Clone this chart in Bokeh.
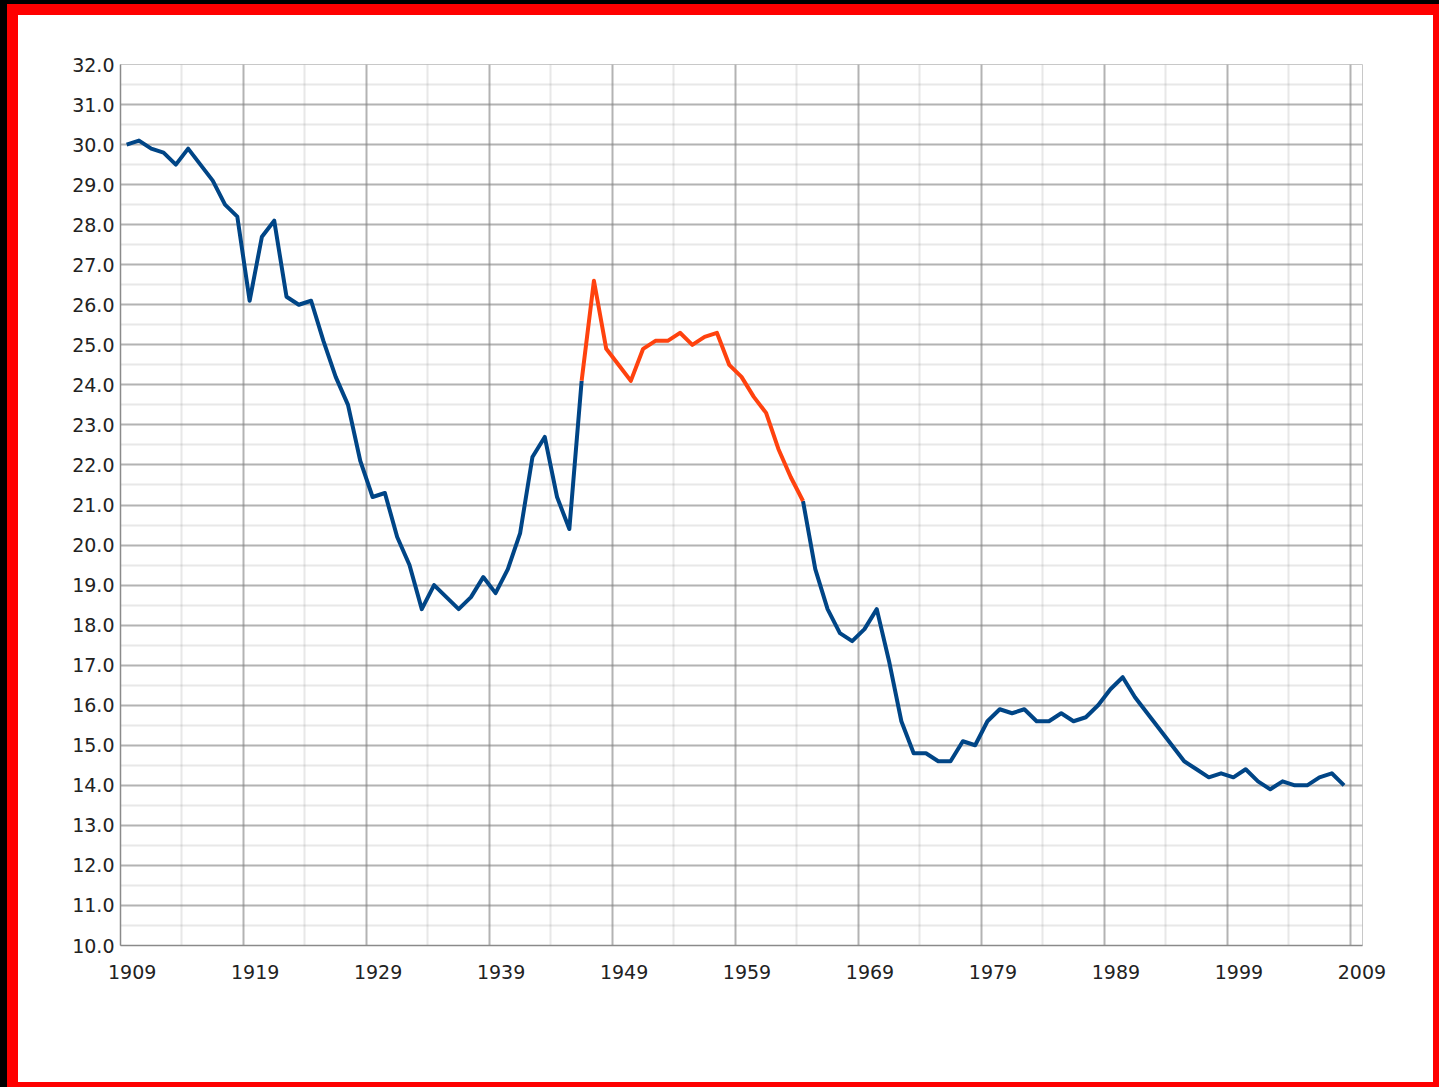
import math
from bokeh.plotting import figure
from bokeh.models import Range1d, FixedTicker, Grid, NumeralTickFormatter, CustomJSTickFormatter
from bokeh.embed import file_html
from bokeh.resources import INLINE

# ---- data ----
years = list(range(1909, 2009))
rate = [
    30.0, 30.1, 29.9, 29.8, 29.5, 29.9, 29.5, 29.1, 28.5, 28.2,   # 1909-1918
    26.1, 27.7, 28.1, 26.2, 26.0, 26.1, 25.1, 24.2, 23.5, 22.1,   # 1919-1928
    21.2, 21.3, 20.2, 19.5, 18.4, 19.0, 18.7, 18.4, 18.7, 19.2,   # 1929-1938
    18.8, 19.4, 20.3, 22.2, 22.7, 21.2, 20.4, 24.1, 26.6, 24.9,   # 1939-1948
    24.5, 24.1, 24.9, 25.1, 25.1, 25.3, 25.0, 25.2, 25.3, 24.5,   # 1949-1958
    24.2, 23.7, 23.3, 22.4, 21.7, 21.1, 19.4, 18.4, 17.8, 17.6,   # 1959-1968
    17.9, 18.4, 17.1, 15.6, 14.8, 14.8, 14.6, 14.6, 15.1, 15.0,   # 1969-1978
    15.6, 15.9, 15.8, 15.9, 15.6, 15.6, 15.8, 15.6, 15.7, 16.0,   # 1979-1988
    16.4, 16.7, 16.2, 15.8, 15.4, 15.0, 14.6, 14.4, 14.2, 14.3,   # 1989-1998
    14.2, 14.4, 14.1, 13.9, 14.1, 14.0, 14.0, 14.2, 14.3, 14.0,   # 1999-2008
]
highlight_start = 1946
highlight_end = 1964
x_labels = [1909, 1919, 1929, 1939, 1949, 1959, 1969, 1979, 1989, 1999, 2009]
y_labels = list(range(10, 33))

# ---- derived series ----
xs = [y + 0.5 for y in years]
blue = [v if (yr <= highlight_start or yr >= highlight_end) else math.nan for yr, v in zip(years, rate)]
orange = [v if highlight_start <= yr <= highlight_end else math.nan for yr, v in zip(years, rate)]

p = figure(width=1415, height=1067,
           x_range=Range1d(1909, 2010), y_range=Range1d(10, 32),
           output_backend="svg", toolbar_location=None,
           min_border_left=102, min_border_right=71, min_border_top=49, min_border_bottom=137,
           background_fill_color="white", border_fill_color="white")
p.styles = {"margin-left": "18px", "margin-top": "15px",
            "outline": "11px solid red",
            "box-shadow": "0 0 0 19px black"}

p.xgrid.visible = False
p.ygrid.visible = False
p.outline_line_color = "#c8c8c8"

minor_x = [v + 5 for v in x_labels[:-1]]
minor_y = [v + 0.5 for v in y_labels[:-1]]
p.add_layout(Grid(dimension=0, ticker=FixedTicker(ticks=minor_x), grid_line_color="#808080",
                  grid_line_alpha=0.18, grid_line_width=2))
p.add_layout(Grid(dimension=1, ticker=FixedTicker(ticks=minor_y), grid_line_color="#808080",
                  grid_line_alpha=0.18, grid_line_width=2))
p.add_layout(Grid(dimension=0, ticker=FixedTicker(ticks=x_labels), grid_line_color="#808080",
                  grid_line_alpha=0.6, grid_line_width=2))
p.add_layout(Grid(dimension=1, ticker=FixedTicker(ticks=y_labels), grid_line_color="#808080",
                  grid_line_alpha=0.6, grid_line_width=2))

p.line(xs, blue, color="#004586", line_width=4, line_join="round")
p.line(xs, orange, color="#ff420e", line_width=4, line_join="round")

for ax in (p.xaxis, p.yaxis):
    ax.major_tick_line_color = None
    ax.minor_tick_line_color = None
    ax.major_tick_out = 0
    ax.axis_line_color = "#8a8a8a"
    ax.axis_line_width = 1.5
    ax.major_label_text_font = "DejaVu Sans"
    ax.major_label_text_font_size = "19px"
    ax.major_label_text_color = "#222222"

p.xaxis.ticker = FixedTicker(ticks=[v + 0.95 for v in x_labels])
p.xaxis.formatter = CustomJSTickFormatter(code="return String(Math.floor(tick));")
p.xaxis.major_label_standoff = 19
p.yaxis.ticker = FixedTicker(ticks=y_labels)
p.yaxis.formatter = NumeralTickFormatter(format="0.0")
p.yaxis.major_label_standoff = 6

open("out.html", "w").write(file_html(p, INLINE))
